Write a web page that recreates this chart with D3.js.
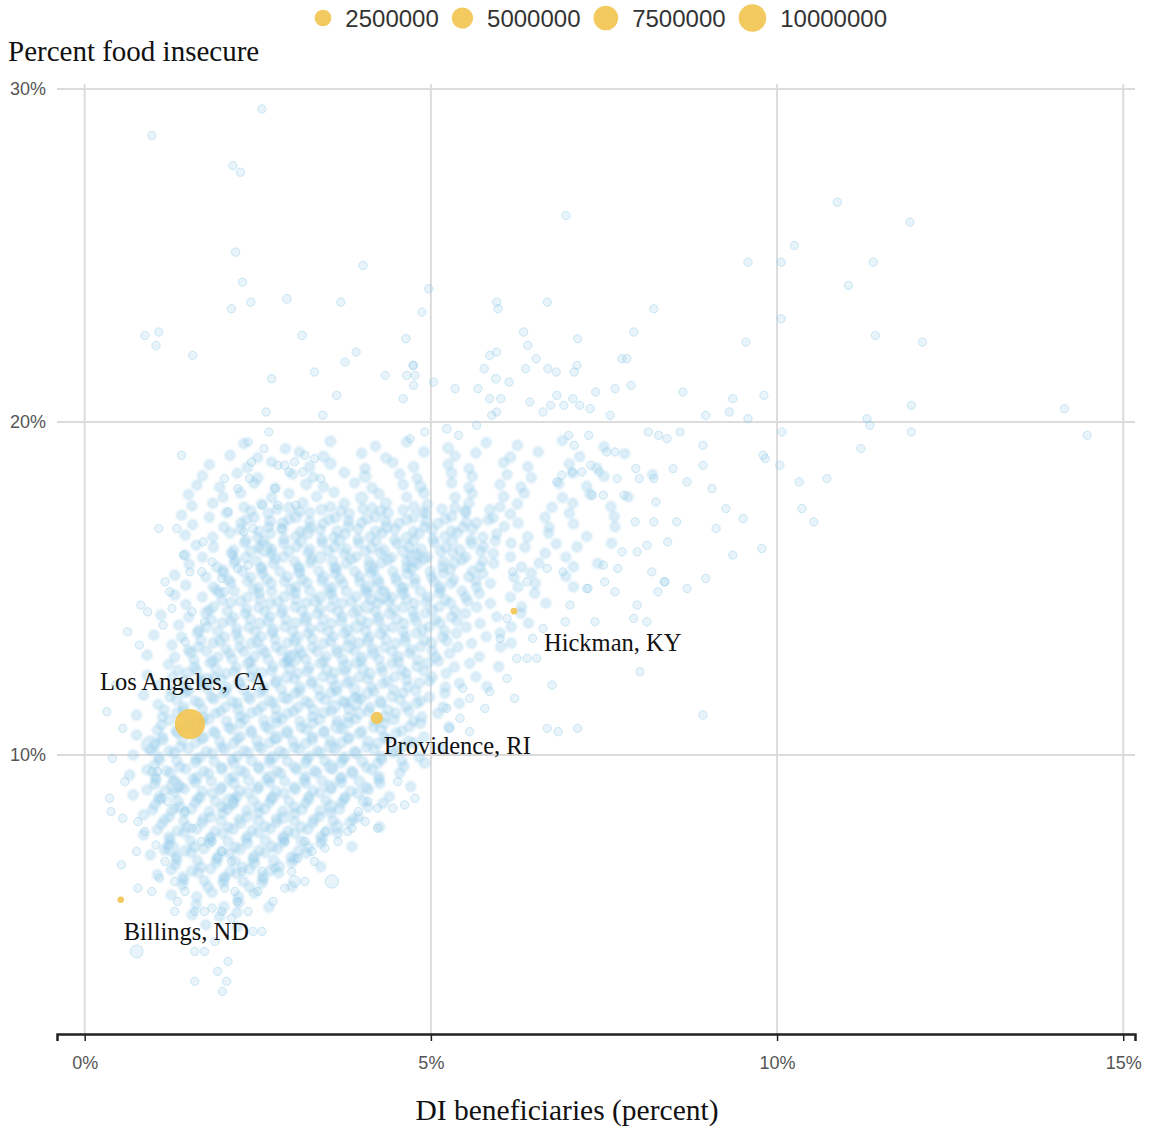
<!DOCTYPE html>
<html>
<head>
<meta charset="utf-8">
<script src="https://cdn.jsdelivr.net/npm/d3@7"></script>
<style>
  body { margin: 0; background: #fff; }
  svg { display: block; }
</style>
</head>
<body>
<svg id="chart"></svg>
<script>
// [DI beneficiaries %, food insecure %, population in thousands]
const outerCounties = [
  // sparse upper area
  [2.56,29.4,15],[0.97,28.6,20],[2.14,27.7,15],[2.25,27.5,12],[6.95,26.2,15],[10.87,26.6,20],[11.92,26.0,15],
  [2.18,25.1,20],[4.02,24.7,25],[2.28,24.2,15],[2.92,23.7,40],[3.7,23.6,20],[2.4,23.6,15],[2.12,23.4,20],
  [4.97,24.0,20],[4.87,23.3,15],[0.87,22.6,20],[1.07,22.7,15],[1.03,22.3,20],[1.56,22.0,15],[3.14,22.6,30],
  [4.64,22.5,20],[3.92,22.1,15],[3.76,21.8,20],[4.74,21.7,15],[3.32,21.5,20],[4.34,21.4,15],[4.65,21.4,20],
  [4.77,21.4,15],[2.7,21.3,20],[10.25,25.3,15],[9.58,24.8,20],[10.06,24.8,15],[11.39,24.8,20],[11.03,24.1,15],
  [10.06,23.1,20],[9.55,22.4,15],[11.42,22.6,20],[12.1,22.4,15],[9.36,20.7,20],[9.81,20.8,15],[9.31,20.3,20],
  [8.97,20.2,15],[9.58,20.1,20],[11.94,20.5,15],[14.15,20.4,20],[11.3,20.1,15],[11.34,19.9,20],[10.07,19.7,15],
  [11.94,19.7,20],[14.48,19.6,15],[8.93,19.3,20],[8.93,18.7,15],[9.8,19.0,20],[9.83,18.9,15],[10.04,18.7,20],
  [11.21,19.2,15],[10.32,18.2,20],[10.72,18.3,15],[9.06,18.0,20],[9.26,17.4,15],[9.51,17.1,20],[9.12,16.8,15],
  [10.36,17.4,20],[10.53,17.0,15],[9.78,16.2,20],[9.36,16.0,15],
  [5.95,23.6,20],[6.68,23.6,15],[5.97,23.4,20],[8.22,23.4,15],[6.34,22.7,20],[7.12,22.5,15],[7.93,22.7,20],
  [6.4,22.3,15],[5.85,22.0,20],[5.95,22.1,15],[6.52,21.9,20],[7.76,21.9,15],[7.83,21.9,20],[4.75,21.7,15],
  [5.77,21.6,20],[6.37,21.6,15],[6.69,21.6,20],[6.81,21.5,15],[7.07,21.5,20],[7.11,21.7,15],[4.75,21.1,20],
  [5.04,21.2,15],[5.35,21.0,20],[5.68,21.0,15],[5.94,21.3,40],[6.13,21.2,15],[7.66,21.0,20],[7.89,21.1,15],
  [7.38,20.9,20],[8.64,20.9,15],[4.6,20.7,20],[5.85,20.7,15],[6.01,20.7,20],[6.43,20.6,15],[6.82,20.8,20],
  [6.92,20.5,15],[7.05,20.7,20],[7.15,20.5,15],[7.3,20.4,20],[6.73,20.5,15],[6.62,20.3,20],[5.95,20.3,15],
  [5.88,20.2,20],[7.59,20.2,15],[3.64,20.8,20],[2.62,20.3,15],[3.44,20.2,20],
  // right-hand spread below 20%
  [4.7,19.5,20],[4.91,19.7,15],[5.23,19.8,40],[5.4,19.6,15],[5.66,19.9,20],[6.99,19.6,15],[7.07,19.3,20],
  [7.28,19.6,15],[8.14,19.7,20],[8.29,19.6,15],[8.41,19.5,20],[8.6,19.7,15],[8.7,18.2,20],[8.42,16.4,15],
  [8.25,17.6,20],[8.5,18.6,15],[7.96,18.6,20],[7.69,18.3,15],[8.01,18.3,20],[8.22,18.3,15],[7.79,17.8,20],
  [7.49,17.8,15],[7.33,17.8,20],[7.95,17.0,15],[8.22,17.0,20],[8.55,17.0,15],[8.12,16.3,20],[8.19,15.5,15],
  [8.37,15.2,20],[8.7,15.0,15],[8.97,15.3,20],[7.98,16.1,15],[7.76,16.1,20],[7.7,15.6,15],[7.49,15.7,20],
  [7.27,15.0,15],[7.54,19.1,20],[7.66,19.1,15],[7.31,18.7,20],[7.43,18.5,15],[7.18,18.5,20],[7.04,18.5,15],
  [6.89,18.4,20],[6.82,18.2,15],[8.38,15.2,20],[8.28,14.9,15],[7.98,14.5,20],[7.93,14.1,15],[8.12,14.0,20],
  [7.37,14.0,15],[6.94,14.0,20],[7.01,14.5,15],[7.66,14.9,20],[7.51,15.2,15],[7.25,15.0,20],[8.02,12.5,15],
  [6.75,12.1,20],[6.47,13.5,15],[6.39,12.9,20],[6.53,12.9,15],[6.24,12.9,20],[6.1,12.3,15],[6.21,11.7,20],
  [6.68,10.8,15],[6.84,10.7,20],[7.12,10.8,15],[8.93,11.2,20],[5.85,11.9,15],[5.78,11.4,20],[5.56,11.7,15],
  [5.46,12.0,20],[5.23,11.4,15],[5.42,11.1,20],[5.56,10.7,15],[5.27,10.8,20],[6.0,13.5,15],[6.1,14.1,20],
  [6.62,13.8,15],[6.68,15.6,20],[6.91,15.5,15],[6.39,15.2,20],[6.18,15.5,15],
  // left edge
  [2.36,19.4,20],[2.59,19.2,15],[1.4,19.0,20],[2.66,19.7,15],[3.18,19.0,20],[3.32,18.9,15],[2.41,18.8,20],
  [2.79,18.7,15],[2.89,18.7,20],[3.03,18.8,15],[2.02,18.3,20],[2.21,18.0,15],[2.38,18.3,20],[2.75,18.0,15],
  [2.95,18.5,20],[3.15,18.5,15],[3.41,18.3,20],[2.57,17.5,15],[2.79,17.5,20],[3.05,17.5,15],[2.07,17.3,20],
  [1.07,16.8,15],[1.33,16.8,20],[1.71,16.4,15],[2.3,16.7,20],[2.43,16.8,15],[2.85,16.8,20],[1.43,16.0,15],
  [1.84,15.8,20],[1.52,15.5,15],[1.69,15.5,20],[1.16,15.2,15],[1.23,14.9,20],[0.81,14.5,15],[0.91,14.3,20],
  [1.26,14.4,15],[0.62,13.7,20],[0.79,13.3,15],[1.13,13.9,20],[1.45,13.4,15],[1.55,14.3,20],[1.73,14.0,15],
  [2.02,14.9,20],[1.98,15.3,15],[2.21,15.6,20],[2.14,16.0,15],[2.36,15.7,20],[0.32,11.3,15],[0.45,12.1,20],
  [0.55,10.8,15],[0.4,9.9,20],
  // lower tail
  [0.58,9.2,15],[0.36,8.7,20],[0.38,8.3,15],[0.55,8.1,20],[0.97,9.5,15],[1.05,9.5,20],[0.77,8.0,15],
  [0.87,7.7,20],[1.03,7.3,15],[0.53,6.7,20],[0.75,7.1,15],[1.16,6.8,20],[1.08,6.3,15],[0.77,6.0,20],
  [0.97,5.9,15],[1.3,6.2,20],[1.34,5.6,15],[1.45,5.9,20],[1.59,5.3,15],[1.73,5.3,20],[1.3,5.3,15],
  [1.84,5.4,20],[1.98,5.3,15],[2.12,5.1,20],[2.2,5.6,15],[2.36,5.3,20],[2.5,5.9,15],[2.17,5.9,20],
  [2.02,6.0,15],[2.43,4.7,20],[2.56,4.7,15],[0.75,4.1,600],[1.59,4.1,20],[1.73,4.1,15],[1.88,4.4,20],
  [2.07,3.8,15],[1.92,3.5,20],[2.05,3.2,15],[1.99,2.9,20],[1.59,3.2,15],[2.72,5.6,20],[2.89,6.0,15],
  [3.03,6.2,300],[3.18,6.2,20],[2.99,6.5,15],[3.57,6.2,700],[3.32,6.8,20],[3.47,7.2,15],[3.08,6.9,20],
  [2.75,6.6,15],[2.56,6.5,20],[2.27,6.5,15],[2.12,6.8,20],[1.98,7.1,15],[1.84,7.4,20],[1.69,7.4,15],
  [1.55,7.8,20],[1.45,8.3,15],[1.3,8.4,20],[1.2,8.6,15],[1.11,8.7,20],[4.23,7.8,15],[4.05,8.0,20],
  [3.8,7.7,15],[3.86,7.8,20],[4.45,8.4,15],[4.62,8.5,20],[4.77,8.7,15],[4.52,9.2,20],[4.23,8.4,15],
  [4.09,8.6,20],[3.95,8.3,15],[3.66,7.4,20],[3.47,7.7,15],[3.18,7.4,20],[2.89,7.4,15],[3.28,7.1,20]
];

const coreCounties = [
  [2.3,19.35,20],[2.9,19.2,15],[3.55,19.42,30],[4.2,19.27,12],[4.65,19.4,20],[5.25,19.22,45],[5.8,19.38,15],[6.25,19.3,25],[6.9,19.44,12],[7.5,19.25,20],
  [2.1,19.0,25],[2.5,18.93,12],[3.1,19.1,20],[3.45,18.96,60],[4.0,19.06,15],[4.35,18.92,20],[4.9,19.1,30],[5.35,18.97,12],[5.65,19.07,20],[6.15,18.94,40],[6.55,19.1,15],[7.15,18.96,20],[7.8,19.05,12],
  [1.8,18.72,15],[2.35,18.63,30],[2.7,18.8,12],[3.25,18.66,20],[3.55,18.75,90],[4.05,18.6,20],[4.45,18.78,15],[4.75,18.65,35],[5.25,18.72,20],[5.55,18.6,12],[6.05,18.78,25],[6.4,18.66,15],[7.0,18.74,20],[7.4,18.62,12],
  [1.7,18.38,20],[2.2,18.46,12],[2.5,18.32,40],[3.0,18.43,20],[3.3,18.34,15],[3.75,18.48,25],[4.05,18.36,120],[4.55,18.44,20],[4.8,18.31,15],[5.3,18.47,30],[5.6,18.36,20],[6.1,18.42,12],[6.45,18.33,20],[7.05,18.46,15],[7.5,18.37,25],[8.2,18.42,12],
  [1.62,18.1,15],[1.95,18.04,25],[2.45,18.16,20],[2.75,18.02,12],[3.2,18.13,50],[3.45,18.05,20],[3.9,18.17,15],[4.15,18.02,30],[4.6,18.12,20],[4.85,18.06,80],[5.3,18.17,15],[5.55,18.03,20],[6.0,18.12,25],[6.3,18.05,12],[6.85,18.15,20],[7.25,18.07,15],
  [1.5,17.82,20],[2.0,17.74,12],[2.25,17.87,30],[2.7,17.73,20],[2.95,17.85,15],[3.35,17.76,25],[3.6,17.89,20],[4.0,17.72,150],[4.25,17.84,20],[4.65,17.75,15],[4.9,17.87,40],[5.35,17.74,20],[5.6,17.85,12],[6.05,17.76,30],[6.35,17.86,20],[6.9,17.73,15],[7.3,17.83,20],[7.85,17.75,12],
  [1.55,17.48,15],[1.85,17.56,25],[2.3,17.44,20],[2.55,17.54,12],[2.95,17.43,40],[3.15,17.57,20],[3.55,17.45,15],[3.75,17.55,30],[4.15,17.42,20],[4.35,17.56,60],[4.75,17.46,20],[4.95,17.53,15],[5.35,17.43,25],[5.55,17.56,20],[6.0,17.45,12],[6.25,17.54,30],[6.75,17.44,20],[7.05,17.56,15],[7.6,17.46,20],
  [1.4,17.2,20],[1.8,17.14,12],[2.05,17.27,30],[2.45,17.13,20],[2.65,17.25,15],[3.05,17.15,90],[3.25,17.28,20],[3.62,17.12,15],[3.82,17.24,25],[4.2,17.15,20],[4.38,17.27,40],[4.75,17.13,20],[4.93,17.25,15],[5.3,17.16,30],[5.5,17.28,20],[5.9,17.12,12],[6.15,17.23,25],[6.65,17.14,20],[7.0,17.26,15],[7.65,17.16,20],
  [1.56,16.92,15],[2.01,16.84,25],[2.26,16.97,20],[2.66,16.85,12],[2.86,16.96,50],[3.26,16.83,20],[3.44,16.95,15],[3.81,16.86,30],[4.0,16.98,20],[4.36,16.84,110],[4.54,16.96,20],[4.91,16.85,15],[5.1,16.95,25],[5.46,16.83,20],[5.66,16.97,40],[6.06,16.86,15],[6.26,16.96,20],[6.71,16.84,12],[7.06,16.94,20],[7.66,16.85,15],
  [1.45,16.6,20],[1.85,16.54,12],[2.1,16.67,30],[2.5,16.53,20],[2.68,16.65,15],[3.05,16.56,25],[3.22,16.68,200],[3.6,16.54,20],[3.76,16.64,15],[4.12,16.55,30],[4.3,16.67,20],[4.65,16.53,60],[4.83,16.65,20],[5.2,16.56,15],[5.38,16.67,25],[5.75,16.54,20],[5.95,16.64,12],[6.4,16.55,30],[6.7,16.66,20],[7.25,16.56,15],
  [1.61,16.3,15],[1.86,16.24,25],[2.31,16.37,20],[2.51,16.23,12],[2.88,16.35,40],[3.06,16.25,20],[3.43,16.37,15],[3.61,16.24,30],[3.96,16.36,20],[4.14,16.22,90],[4.51,16.35,20],[4.68,16.25,15],[5.05,16.37,25],[5.21,16.23,20],[5.59,16.35,45],[5.76,16.26,20],[6.16,16.36,15],[6.36,16.24,20],[6.81,16.34,12],[7.11,16.25,20],[7.61,16.36,15],
  [1.45,16.0,20],[1.7,15.94,12],[2.12,16.06,30],[2.33,15.93,20],[2.7,16.05,15],[2.87,15.95,25],[3.23,16.07,20],[3.4,15.93,150],[3.75,16.05,20],[3.92,15.95,15],[4.27,16.07,30],[4.43,15.93,20],[4.79,16.04,70],[4.95,15.95,20],[5.32,16.06,15],[5.5,15.94,25],[5.9,16.05,20],[6.15,15.95,12],[6.65,16.06,20],[6.95,15.94,15],
  [1.51,15.72,15],[1.91,15.64,25],[2.16,15.77,20],[2.56,15.63,12],[2.73,15.75,50],[3.09,15.65,20],[3.26,15.77,15],[3.61,15.63,30],[3.78,15.75,20],[4.13,15.65,250],[4.29,15.77,20],[4.65,15.63,15],[4.81,15.74,25],[5.17,15.64,20],[5.34,15.76,40],[5.71,15.65,20],[5.91,15.75,15],[6.31,15.64,20],[6.56,15.76,12],[7.06,15.65,20],[7.41,15.75,15],
  [1.3,15.4,20],[1.75,15.34,12],[2.0,15.47,30],[2.4,15.33,20],[2.57,15.45,15],[2.93,15.35,25],[3.1,15.47,20],[3.45,15.33,100],[3.62,15.45,20],[3.97,15.35,15],[4.13,15.47,30],[4.49,15.33,20],[4.66,15.45,60],[5.01,15.34,20],[5.18,15.46,15],[5.55,15.35,25],[5.75,15.45,20],[6.2,15.34,12],[6.45,15.46,20],[6.95,15.36,15],
  [1.46,15.1,15],[1.86,15.04,25],[2.11,15.17,20],[2.51,15.03,12],[2.69,15.15,45],[3.05,15.05,20],[3.21,15.17,15],[3.57,15.03,30],[3.73,15.15,20],[4.09,15.05,180],[4.25,15.17,20],[4.61,15.03,15],[4.77,15.15,25],[5.13,15.05,20],[5.29,15.16,35],[5.66,15.04,20],[5.86,15.15,15],[6.26,15.05,20],[6.51,15.16,12],[7.06,15.05,20],
  [1.3,14.8,20],[1.7,14.74,12],[1.95,14.87,30],[2.35,14.73,20],[2.52,14.85,15],[2.88,14.75,25],[3.04,14.87,20],[3.4,14.73,120],[3.56,14.85,20],[3.92,14.75,15],[4.08,14.87,30],[4.44,14.73,20],[4.6,14.85,80],[4.96,14.74,20],[5.12,14.86,15],[5.5,14.75,25],[5.7,14.85,20],[6.15,14.74,12],[6.5,14.86,20],
  [1.46,14.52,15],[1.86,14.44,25],[2.11,14.57,20],[2.51,14.43,12],[2.68,14.55,50],[3.04,14.45,20],[3.2,14.57,15],[3.56,14.43,30],[3.72,14.55,20],[4.08,14.45,300],[4.24,14.57,20],[4.6,14.43,15],[4.76,14.55,25],[5.12,14.45,20],[5.28,14.56,40],[5.66,14.44,20],[5.86,14.55,15],[6.31,14.45,20],[6.66,14.56,12],
  [1.1,14.2,20],[1.5,14.14,12],[1.75,14.27,30],[2.15,14.13,20],[2.32,14.25,15],[2.68,14.15,25],[2.84,14.27,20],[3.2,14.13,90],[3.36,14.25,20],[3.72,14.15,15],[3.88,14.27,30],[4.24,14.13,20],[4.4,14.25,60],[4.76,14.15,20],[4.92,14.26,15],[5.3,14.14,25],[5.5,14.25,20],[5.95,14.15,12],[6.3,14.26,20],
  [1.36,13.9,15],[1.76,13.84,25],[1.99,13.97,20],[2.37,13.83,12],[2.53,13.95,45],[2.89,13.85,20],[3.05,13.97,15],[3.41,13.83,30],[3.57,13.95,20],[3.93,13.85,200],[4.09,13.97,20],[4.45,13.83,15],[4.61,13.95,25],[4.97,13.85,20],[5.13,13.96,35],[5.51,13.84,20],[5.71,13.95,15],[6.16,13.85,20],[6.41,13.96,12],
  [1.0,13.6,20],[1.4,13.54,12],[1.63,13.67,30],[2.02,13.53,20],[2.19,13.65,15],[2.55,13.55,25],[2.71,13.67,20],[3.07,13.53,110],[3.23,13.65,20],[3.59,13.55,15],[3.75,13.67,30],[4.11,13.53,20],[4.27,13.65,70],[4.63,13.55,20],[4.79,13.66,15],[5.17,13.54,25],[5.37,13.65,20],[5.8,13.55,12],[6.0,13.66,20],
  [1.26,13.3,15],[1.64,13.24,25],[1.86,13.37,20],[2.24,13.23,12],[2.41,13.35,50],[2.77,13.25,20],[2.93,13.37,15],[3.29,13.23,30],[3.45,13.35,20],[3.81,13.25,250],[3.97,13.37,20],[4.33,13.23,15],[4.49,13.35,25],[4.85,13.25,20],[5.01,13.36,40],[5.39,13.24,20],[5.59,13.35,15],[6.01,13.25,20],[6.16,13.36,12],
  [0.9,13.0,20],[1.3,12.94,12],[1.53,13.07,30],[1.92,12.93,20],[2.09,13.05,15],[2.45,12.95,25],[2.61,13.07,20],[2.97,12.93,120],[3.13,13.05,20],[3.49,12.95,15],[3.65,13.07,30],[4.01,12.93,20],[4.17,13.05,80],[4.53,12.95,20],[4.69,13.06,15],[5.07,12.94,25],[5.27,13.05,20],[5.7,12.95,12],
  [1.21,12.72,15],[1.59,12.64,25],[1.81,12.77,20],[2.19,12.63,12],[2.36,12.75,45],[2.72,12.65,20],[2.88,12.77,15],[3.24,12.63,30],[3.4,12.75,20],[3.76,12.65,350],[3.92,12.77,20],[4.28,12.63,15],[4.44,12.75,25],[4.8,12.65,20],[4.96,12.76,40],[5.34,12.64,20],[5.56,12.75,15],[5.98,12.65,20],
  [0.9,12.4,20],[1.27,12.34,12],[1.49,12.47,30],[1.87,12.33,20],[2.04,12.45,15],[2.4,12.35,25],[2.56,12.47,20],[2.92,12.33,100],[3.08,12.45,20],[3.44,12.35,15],[3.6,12.47,30],[3.96,12.33,20],[4.12,12.45,60],[4.48,12.35,20],[4.64,12.46,15],[5.02,12.34,25],[5.22,12.45,20],[5.65,12.35,12],
  [1.06,12.1,15],[1.46,12.04,25],[1.68,12.17,20],[2.06,12.03,12],[2.23,12.15,50],[2.59,12.05,20],[2.75,12.17,15],[3.11,12.03,30],[3.27,12.15,20],[3.63,12.05,200],[3.79,12.17,20],[4.15,12.03,15],[4.31,12.15,25],[4.67,12.05,20],[4.83,12.16,40],[5.21,12.04,20],[5.41,12.15,15],[5.81,12.05,20],
  [0.85,11.8,20],[1.23,11.74,12],[1.45,11.87,30],[1.83,11.73,20],[2.0,11.85,15],[2.36,11.75,25],[2.52,11.87,20],[2.88,11.73,130],[3.04,11.85,20],[3.4,11.75,15],[3.56,11.87,30],[3.92,11.73,20],[4.08,11.85,70],[4.44,11.75,20],[4.6,11.86,15],[4.98,11.74,25],[5.2,11.85,20],
  [1.06,11.52,15],[1.43,11.44,25],[1.65,11.57,20],[2.03,11.43,12],[2.2,11.55,45],[2.56,11.45,20],[2.72,11.57,15],[3.08,11.43,30],[3.24,11.55,20],[3.6,11.45,250],[3.76,11.57,20],[4.12,11.43,15],[4.28,11.55,25],[4.64,11.45,20],[4.8,11.56,40],[5.18,11.44,20],[5.41,11.55,15],
  [0.75,11.2,20],[1.12,11.14,12],[1.34,11.27,30],[1.72,11.13,20],[1.89,11.25,15],[2.25,11.15,25],[2.41,11.27,20],[2.77,11.13,110],[2.93,11.25,20],[3.29,11.15,15],[3.45,11.27,30],[3.81,11.13,20],[3.97,11.25,80],[4.33,11.15,20],[4.49,11.26,15],[4.87,11.14,25],[5.1,11.25,20],
  [1.11,10.9,15],[1.48,10.84,25],[1.7,10.97,20],[2.08,10.83,12],[2.25,10.95,50],[2.61,10.85,20],[2.77,10.97,15],[3.13,10.83,30],[3.29,10.95,20],[3.65,10.85,300],[3.81,10.97,20],[4.17,10.83,15],[4.33,10.95,25],[4.69,10.85,20],[4.85,10.96,40],[5.26,10.84,20],
  [0.75,10.6,20],[1.12,10.54,12],[1.34,10.67,30],[1.72,10.53,20],[1.89,10.65,15],[2.25,10.55,25],[2.41,10.67,20],[2.77,10.53,140],[2.93,10.65,20],[3.29,10.55,15],[3.45,10.67,30],[3.81,10.53,20],[3.97,10.65,60],[4.33,10.55,20],[4.5,10.66,15],[4.9,10.54,25],
  [1.01,10.32,15],[1.38,10.24,25],[1.6,10.37,20],[1.98,10.23,12],[2.15,10.35,45],[2.51,10.25,20],[2.67,10.37,15],[3.03,10.23,30],[3.19,10.35,20],[3.55,10.25,220],[3.71,10.37,20],[4.07,10.23,15],[4.23,10.35,25],[4.59,10.25,20],[4.76,10.36,40],[5.16,10.24,20],
  [0.7,10.0,20],[1.07,9.94,12],[1.29,10.07,30],[1.67,9.93,20],[1.84,10.05,15],[2.2,9.95,25],[2.36,10.07,20],[2.72,9.93,120],[2.88,10.05,20],[3.24,9.95,15],[3.4,10.07,30],[3.76,9.93,20],[3.92,10.05,70],[4.28,9.95,20],[4.45,10.06,15],[4.83,9.94,25],
  [1.01,9.7,15],[1.38,9.64,25],[1.6,9.77,20],[1.98,9.63,12],[2.15,9.75,50],[2.51,9.65,20],[2.67,9.77,15],[3.03,9.63,30],[3.19,9.75,20],[3.55,9.65,260],[3.71,9.77,20],[4.07,9.63,15],[4.23,9.75,25],[4.61,9.65,20],[4.91,9.76,40],
  [0.65,9.4,20],[1.02,9.34,12],[1.24,9.47,30],[1.62,9.33,20],[1.79,9.45,15],[2.15,9.35,25],[2.31,9.47,20],[2.67,9.33,150],[2.83,9.45,20],[3.19,9.35,15],[3.35,9.47,30],[3.71,9.33,20],[3.87,9.45,60],[4.25,9.35,20],[4.55,9.46,15],
  [1.01,9.12,15],[1.38,9.04,25],[1.6,9.17,20],[1.98,9.03,12],[2.15,9.15,45],[2.51,9.05,20],[2.67,9.17,15],[3.03,9.03,30],[3.19,9.15,20],[3.55,9.05,180],[3.71,9.17,20],[4.07,9.03,15],[4.26,9.15,25],[4.71,9.05,20],
  [0.7,8.8,20],[1.07,8.74,12],[1.29,8.87,30],[1.67,8.73,20],[1.84,8.85,15],[2.2,8.75,25],[2.36,8.87,20],[2.72,8.73,100],[2.88,8.85,20],[3.24,8.75,15],[3.4,8.87,30],[3.76,8.73,20],[3.95,8.85,50],[4.4,8.75,20],
  [1.01,8.5,15],[1.38,8.44,25],[1.6,8.57,20],[1.98,8.43,12],[2.15,8.55,40],[2.51,8.45,20],[2.67,8.57,15],[3.03,8.43,30],[3.19,8.55,20],[3.55,8.45,200],[3.71,8.57,20],[4.09,8.43,15],[4.31,8.55,25],
  [0.85,8.2,20],[1.22,8.14,12],[1.44,8.27,30],[1.82,8.13,20],[1.99,8.25,15],[2.35,8.15,25],[2.51,8.27,20],[2.87,8.13,120],[3.03,8.25,20],[3.39,8.15,15],[3.55,8.27,30],[3.95,8.13,20],
  [1.11,7.92,15],[1.48,7.84,25],[1.7,7.97,20],[2.08,7.83,12],[2.25,7.95,50],[2.61,7.85,20],[2.77,7.97,15],[3.13,7.83,30],[3.29,7.95,20],[3.65,7.85,160],[3.83,7.97,20],[4.26,7.84,15],
  [0.85,7.6,20],[1.22,7.54,12],[1.44,7.67,30],[1.82,7.53,20],[1.99,7.65,15],[2.35,7.55,25],[2.51,7.67,20],[2.87,7.53,90],[3.03,7.65,20],[3.41,7.55,15],[3.65,7.66,25],
  [1.21,7.3,15],[1.58,7.24,25],[1.8,7.37,20],[2.18,7.23,12],[2.35,7.35,45],[2.71,7.25,20],[2.87,7.37,15],[3.23,7.23,30],[3.41,7.35,20],[3.86,7.25,15],
  [0.95,7.0,20],[1.32,6.94,12],[1.54,7.07,30],[1.92,6.93,20],[2.09,7.05,15],[2.45,6.95,70],[2.61,7.07,20],[2.98,6.93,15],[3.2,7.05,20],
  [1.31,6.7,15],[1.68,6.64,25],[1.9,6.77,20],[2.28,6.63,12],[2.45,6.75,40],[2.81,6.65,20],[2.99,6.77,15],[3.41,6.64,20],
  [1.05,6.4,20],[1.42,6.34,12],[1.64,6.47,30],[2.02,6.33,20],[2.19,6.45,15],[2.57,6.35,25],[2.8,6.46,20],
  [1.41,6.1,15],[1.78,6.04,25],[2.0,6.17,20],[2.38,6.03,12],[2.56,6.15,30],[2.99,6.05,15],
  [1.25,5.8,20],[1.62,5.74,12],[1.84,5.87,25],[2.22,5.73,20],[2.45,5.85,15],
  [1.61,5.5,15],[2.01,5.44,20],[2.23,5.57,12],[2.66,5.43,20],
  [1.55,5.2,20],[1.95,5.14,15],[2.2,5.27,12],
  [1.75,4.9,15],[2.2,4.84,20],
  // denser middle of the cloud
  [2.4,17.33,25],[2.78,17.38,15],[3.1,17.31,20],[3.42,17.37,45],[3.7,17.32,15],[4.02,17.39,20],[4.28,17.33,30],[4.6,17.36,15],[4.88,17.3,20],[5.16,17.38,25],[5.5,17.33,15],[5.85,17.37,20],
  [2.33,17.05,20],[2.68,17.02,30],[2.95,17.08,15],[3.25,17.0,20],[3.53,17.07,25],[3.81,17.03,15],[4.08,17.09,60],[4.35,17.01,20],[4.65,17.06,15],[4.93,17.02,25],[5.21,17.08,20],[5.51,17.0,15],[5.83,17.06,20],
  [2.25,16.77,15],[2.52,16.72,20],[2.85,16.78,40],[3.12,16.71,15],[3.4,16.76,20],[3.65,16.73,30],[3.95,16.79,15],[4.2,16.72,20],[4.48,16.78,50],[4.75,16.71,15],[5.02,16.76,20],[5.3,16.73,25],[5.6,16.78,15],
  [2.33,16.45,20],[2.58,16.42,15],[2.88,16.48,25],[3.13,16.41,20],[3.43,16.47,15],[3.68,16.43,70],[3.95,16.48,20],[4.21,16.41,15],[4.48,16.46,30],[4.75,16.42,20],[5.03,16.48,15],[5.31,16.41,25],[5.58,16.46,20],[5.93,16.43,15],
  [2.15,16.15,15],[2.4,16.12,30],[2.7,16.18,20],[2.95,16.11,15],[3.25,16.17,40],[3.52,16.13,20],[3.78,16.18,15],[4.05,16.11,25],[4.32,16.16,20],[4.6,16.12,110],[4.86,16.18,20],[5.14,16.11,15],[5.42,16.16,20],[5.72,16.12,25],
  [2.18,15.85,20],[2.48,15.82,15],[2.75,15.88,25],[3.03,15.81,20],[3.28,15.87,15],[3.58,15.83,30],[3.85,15.88,20],[4.11,15.81,15],[4.38,15.86,45],[4.65,15.82,20],[4.91,15.88,15],[5.18,15.81,25],[5.45,15.86,20],[5.75,15.82,15],
  [2.0,15.55,15],[2.28,15.52,25],[2.55,15.58,20],[2.82,15.51,15],[3.1,15.57,60],[3.38,15.53,20],[3.64,15.58,15],[3.9,15.51,25],[4.18,15.56,20],[4.45,15.52,15],[4.72,15.58,30],[4.99,15.51,20],[5.28,15.56,15],[5.6,15.52,20],
  [2.08,15.25,20],[2.35,15.22,15],[2.63,15.28,30],[2.89,15.21,20],[3.15,15.27,15],[3.43,15.23,25],[3.69,15.28,20],[3.97,15.21,15],[4.23,15.26,80],[4.51,15.22,20],[4.77,15.28,15],[5.05,15.21,25],[5.33,15.26,20],[5.65,15.22,15],
  [1.9,14.95,15],[2.16,14.92,25],[2.44,14.98,20],[2.7,14.91,15],[2.98,14.97,40],[3.25,14.93,20],[3.52,14.98,15],[3.78,14.91,25],[4.05,14.96,20],[4.32,14.92,15],[4.58,14.98,50],[4.85,14.91,20],[5.14,14.96,15],[5.45,14.92,20],
  [1.98,14.65,20],[2.25,14.62,15],[2.53,14.68,25],[2.79,14.61,20],[3.05,14.67,15],[3.33,14.63,90],[3.59,14.68,20],[3.85,14.61,15],[4.13,14.66,25],[4.39,14.62,20],[4.65,14.68,15],[4.93,14.61,30],[5.21,14.66,20],[5.53,14.62,15],
  [1.8,14.35,15],[2.06,14.32,25],[2.34,14.38,20],[2.6,14.31,15],[2.86,14.37,35],[3.14,14.33,20],[3.4,14.38,15],[3.66,14.31,25],[3.94,14.36,20],[4.2,14.32,15],[4.46,14.38,60],[4.74,14.31,20],[5.02,14.36,15],[5.35,14.32,20],
  [1.83,14.05,20],[2.11,14.02,15],[2.39,14.08,25],[2.65,14.01,20],[2.91,14.07,15],[3.19,14.03,40],[3.45,14.08,20],[3.71,14.01,15],[3.99,14.06,25],[4.25,14.02,20],[4.51,14.08,15],[4.79,14.01,30],[5.07,14.06,20],[5.38,14.02,15],
  [1.65,13.75,15],[1.92,13.72,25],[2.2,13.78,20],[2.46,13.71,15],[2.72,13.77,70],[3.0,13.73,20],[3.26,13.78,15],[3.52,13.71,25],[3.8,13.76,20],[4.06,13.72,15],[4.32,13.78,35],[4.6,13.71,20],[4.88,13.76,15],[5.2,13.72,20],
  [1.68,13.45,20],[1.95,13.42,15],[2.23,13.48,25],[2.49,13.41,20],[2.75,13.47,15],[3.03,13.43,30],[3.29,13.48,20],[3.55,13.41,15],[3.83,13.46,100],[4.09,13.42,20],[4.35,13.48,15],[4.63,13.41,25],[4.91,13.46,20],[5.23,13.42,15],
  [1.5,13.15,15],[1.76,13.12,25],[2.04,13.18,20],[2.3,13.11,15],[2.56,13.17,45],[2.84,13.13,20],[3.1,13.18,15],[3.36,13.11,25],[3.64,13.16,20],[3.9,13.12,15],[4.16,13.18,60],[4.44,13.11,20],[4.72,13.16,15],[5.02,13.12,20],
  [1.58,12.85,20],[1.85,12.82,15],[2.13,12.88,25],[2.39,12.81,20],[2.65,12.87,15],[2.93,12.83,40],[3.19,12.88,20],[3.45,12.81,15],[3.73,12.86,25],[3.99,12.82,20],[4.25,12.88,15],[4.53,12.81,30],[4.81,12.86,20],[5.11,12.82,15],
  [1.35,12.55,15],[1.62,12.52,25],[1.9,12.58,20],[2.16,12.51,15],[2.42,12.57,80],[2.7,12.53,20],[2.96,12.58,15],[3.22,12.51,25],[3.5,12.56,20],[3.76,12.52,15],[4.02,12.58,35],[4.3,12.51,20],[4.58,12.56,15],[4.9,12.52,20],
  [1.43,12.25,20],[1.69,12.22,15],[1.97,12.28,25],[2.23,12.21,20],[2.49,12.27,15],[2.77,12.23,30],[3.03,12.28,20],[3.29,12.21,15],[3.57,12.26,90],[3.83,12.22,20],[4.09,12.28,15],[4.37,12.21,25],[4.65,12.26,20],[4.98,12.22,15],
  [1.25,11.95,15],[1.5,11.92,25],[1.78,11.98,20],[2.04,11.91,15],[2.3,11.97,40],[2.58,11.93,20],[2.84,11.98,15],[3.1,11.91,25],[3.38,11.96,20],[3.64,11.92,15],[3.9,11.98,50],[4.18,11.91,20],[4.46,11.96,15],[4.78,11.92,20],
  [1.33,11.65,20],[1.59,11.62,15],[1.87,11.68,25],[2.13,11.61,20],[2.39,11.67,15],[2.67,11.63,35],[2.93,11.68,20],[3.19,11.61,15],[3.47,11.66,25],[3.73,11.62,20],[3.99,11.68,15],[4.27,11.61,70],[4.55,11.66,20],[4.85,11.62,15],
  [1.15,11.35,15],[1.42,11.32,25],[1.7,11.38,20],[1.96,11.31,15],[2.22,11.37,60],[2.5,11.33,20],[2.76,11.38,15],[3.02,11.31,25],[3.3,11.36,20],[3.56,11.32,15],[3.82,11.38,30],[4.1,11.31,20],[4.38,11.36,15],[4.68,11.32,20],
  [1.23,11.05,20],[1.51,11.02,15],[1.79,11.08,25],[2.05,11.01,20],[2.31,11.07,15],[2.59,11.03,40],[2.85,11.08,20],[3.11,11.01,15],[3.39,11.06,25],[3.65,11.02,20],[3.91,11.08,15],[4.19,11.01,35],[4.47,11.06,20],[4.75,11.02,15],
  [1.05,10.75,15],[1.32,10.72,25],[1.6,10.78,20],[1.86,10.71,15],[2.12,10.77,30],[2.4,10.73,20],[2.66,10.78,15],[2.92,10.71,80],[3.2,10.76,20],[3.46,10.72,15],[3.72,10.78,25],[4.0,10.71,20],[4.28,10.76,15],[4.58,10.72,20],
  [1.13,10.45,20],[1.41,10.42,15],[1.69,10.48,25],[1.95,10.41,20],[2.21,10.47,15],[2.49,10.43,50],[2.75,10.48,20],[3.01,10.41,15],[3.29,10.46,25],[3.55,10.42,20],[3.81,10.48,15],[4.09,10.41,30],[4.37,10.46,20],[4.68,10.42,15],
  [0.95,10.15,15],[1.22,10.12,25],[1.5,10.18,20],[1.76,10.11,15],[2.02,10.17,40],[2.3,10.13,20],[2.56,10.18,15],[2.82,10.11,25],[3.1,10.16,20],[3.36,10.12,15],[3.62,10.18,60],[3.9,10.11,20],[4.18,10.16,15],[4.5,10.12,20],
  [1.08,9.85,20],[1.33,9.82,15],[1.61,9.88,25],[1.87,9.81,20],[2.13,9.87,15],[2.41,9.83,30],[2.67,9.88,20],[2.93,9.81,15],[3.21,9.86,25],[3.47,9.82,20],[3.73,9.88,15],[4.01,9.81,40],[4.29,9.86,20],[4.58,9.82,15],
  [0.9,9.55,15],[1.18,9.52,25],[1.46,9.58,20],[1.72,9.51,15],[1.98,9.57,50],[2.26,9.53,20],[2.52,9.58,15],[2.78,9.51,25],[3.06,9.56,20],[3.32,9.52,15],[3.58,9.58,30],[3.86,9.51,20],[4.15,9.56,15],
  [1.03,9.25,20],[1.29,9.22,15],[1.57,9.28,25],[1.83,9.21,20],[2.09,9.27,15],[2.37,9.23,35],[2.63,9.28,20],[2.89,9.21,15],[3.17,9.26,25],[3.43,9.22,20],[3.69,9.28,15],[3.97,9.21,40],[4.25,9.26,20],
  [0.9,8.95,15],[1.16,8.92,25],[1.44,8.98,20],[1.7,8.91,15],[1.96,8.97,60],[2.24,8.93,20],[2.5,8.98,15],[2.76,8.91,25],[3.04,8.96,20],[3.3,8.92,15],[3.56,8.98,30],[3.84,8.91,20],[4.1,8.96,15],
  [1.08,8.65,20],[1.35,8.62,15],[1.63,8.68,25],[1.89,8.61,20],[2.15,8.67,15],[2.43,8.63,40],[2.69,8.68,20],[2.95,8.61,15],[3.23,8.66,25],[3.49,8.62,20],[3.75,8.68,15],[4.03,8.61,20],
  [0.98,8.35,15],[1.26,8.32,25],[1.54,8.38,20],[1.8,8.31,15],[2.06,8.37,35],[2.34,8.33,20],[2.6,8.38,15],[2.86,8.31,25],[3.14,8.36,20],[3.4,8.32,15],[3.68,8.38,30],
  [1.15,8.05,20],[1.43,8.02,15],[1.71,8.08,25],[1.97,8.01,20],[2.23,8.07,15],[2.51,8.03,50],[2.77,8.08,20],[3.03,8.01,15],[3.31,8.06,25],[3.59,8.02,20],[3.88,8.08,15],
  [1.05,7.75,15],[1.34,7.72,25],[1.62,7.78,20],[1.88,7.71,15],[2.14,7.77,30],[2.42,7.73,20],[2.68,7.78,15],[2.94,7.71,25],[3.22,7.76,20],[3.5,7.72,15],
  [1.23,7.45,20],[1.53,7.42,15],[1.81,7.48,25],[2.07,7.41,20],[2.33,7.47,15],[2.61,7.43,40],[2.87,7.48,20],[3.13,7.41,15],[3.43,7.46,20],
  [1.15,7.15,15],[1.45,7.12,25],[1.72,7.18,20],[1.98,7.11,15],[2.24,7.17,30],[2.52,7.13,20],[2.78,7.18,15],[3.08,7.11,20],
  [1.33,6.85,20],[1.63,6.82,15],[1.91,6.88,25],[2.17,6.81,20],[2.43,6.87,15],[2.73,6.83,35],[3.03,6.88,20],
  [1.25,6.55,15],[1.55,6.52,25],[1.82,6.58,20],[2.1,6.51,15],[2.38,6.57,30],[2.68,6.53,20],
  [1.43,6.25,20],[1.73,6.22,15],[2.01,6.28,25],[2.29,6.21,20],[2.58,6.27,15],
  // a few larger counties
  [0.95,10.3,1500],[1.3,9.1,900],[2.1,8.6,800],[3.0,12.9,1200],[4.3,14.8,1000],[2.6,16.2,900],
  [1.75,12.2,1100],[1.25,7.2,700],[3.9,11.6,900],[4.75,15.9,700]
];

const highlightNames = ["Los Angeles, CA", "Providence, RI", "Hickman, KY", "Billings, ND"];
const highlightDi = [1.52, 4.22, 6.2, 0.52];
const highlightFood = [10.93, 11.11, 14.32, 5.65];
const highlightPop = [10100000, 630000, 4500, 900];

const legendValues = [2500000, 5000000, 7500000, 10000000];
const xTicks = [0, 5, 10, 15];
const yTicks = [10, 20, 30];

const width = 1151;
const height = 1132;
const sansFont = "'Liberation Sans', Arial, sans-serif";
const serifFont = "'Liberation Serif', 'Times New Roman', serif";
const gold = "#f2c44f";
const blue = "#8cc7e8";

const svg = d3.select("#chart")
  .attr("width", width)
  .attr("height", height);

// soften the dense part of the cloud
svg.append("defs").append("filter")
  .attr("id", "soft")
  .attr("x", "-5%").attr("y", "-5%").attr("width", "110%").attr("height", "110%")
  .append("feGaussianBlur")
  .attr("stdDeviation", 0.9);

// scales
const x = d3.scaleLinear().domain([-0.4, 15.17]).range([57, 1135]);
const y = d3.scaleLinear().domain([1.62, 30.15]).range([1034, 84]);
const r = d3.scaleSqrt().domain([0, 10000000]).range([3.2, 15]);
const rBlue = d3.scaleSqrt().domain([0, 10000000]).range([3.7, 15]);

// grid
svg.append("g")
  .selectAll("line")
  .data(xTicks)
  .join("line")
  .attr("x1", d => x(d)).attr("x2", d => x(d))
  .attr("y1", y.range()[1]).attr("y2", y.range()[0])
  .attr("stroke", "#dcdcdc")
  .attr("stroke-width", 2);

svg.append("g")
  .selectAll("line")
  .data(yTicks)
  .join("line")
  .attr("x1", x.range()[0]).attr("x2", x.range()[1])
  .attr("y1", d => y(d)).attr("y2", d => y(d))
  .attr("stroke", "#dcdcdc")
  .attr("stroke-width", 2);

// y tick labels
svg.append("g")
  .selectAll("text")
  .data(yTicks)
  .join("text")
  .attr("x", 46)
  .attr("y", d => y(d))
  .attr("dy", "0.36em")
  .attr("text-anchor", "end")
  .attr("font-family", sansFont)
  .attr("font-size", 18)
  .attr("fill", "#555")
  .text(d => d + "%");

// x axis
const xAxis = svg.append("g")
  .attr("transform", `translate(0,${y.range()[0]})`)
  .call(d3.axisBottom(x).tickValues(xTicks).tickSize(7).tickPadding(15).tickFormat(d => d + "%"));
xAxis.select(".domain").attr("stroke", "#222").attr("stroke-width", 2.5);
xAxis.selectAll(".tick line").attr("stroke", "#222").attr("stroke-width", 1.5);
xAxis.selectAll(".tick text")
  .attr("font-family", sansFont)
  .attr("font-size", 18)
  .attr("fill", "#555");

// county bubbles: dense core (softened), then the sparse outskirts
const bySize = arr => arr.slice().sort((a, b) => b[2] - a[2]);

svg.append("g")
  .attr("filter", "url(#soft)")
  .selectAll("circle")
  .data(bySize(coreCounties))
  .join("circle")
  .attr("cx", d => x(d[0]))
  .attr("cy", d => y(d[1]))
  .attr("r", d => rBlue(d[2] * 1000) + 0.6)
  .attr("fill", blue)
  .attr("fill-opacity", 0.3)
  .attr("stroke", blue)
  .attr("stroke-opacity", 0.55)
  .attr("stroke-width", 1);

svg.append("g")
  .selectAll("circle")
  .data(bySize(outerCounties))
  .join("circle")
  .attr("cx", d => x(d[0]))
  .attr("cy", d => y(d[1]))
  .attr("r", d => rBlue(d[2] * 1000))
  .attr("fill", blue)
  .attr("fill-opacity", 0.2)
  .attr("stroke", blue)
  .attr("stroke-opacity", 0.4)
  .attr("stroke-width", 1);

// highlighted counties
const highlights = highlightNames.map((name, i) => ({
  name, di: highlightDi[i], food: highlightFood[i], pop: highlightPop[i]
}));
const labelOffsets = [[-90, -34], [7, 36], [30, 40], [3, 40]];

svg.append("g")
  .selectAll("circle")
  .data(highlights)
  .join("circle")
  .attr("cx", d => x(d.di))
  .attr("cy", d => y(d.food))
  .attr("r", d => r(d.pop))
  .attr("fill", gold)
  .attr("fill-opacity", 0.9);

svg.append("g")
  .selectAll("text")
  .data(highlights)
  .join("text")
  .attr("x", (d, i) => x(d.di) + labelOffsets[i][0])
  .attr("y", (d, i) => y(d.food) + labelOffsets[i][1])
  .attr("font-family", serifFont)
  .attr("font-size", 24.5)
  .attr("fill", "#111")
  .text(d => d.name);

// titles
svg.append("text")
  .attr("x", 8)
  .attr("y", 61)
  .attr("font-family", serifFont)
  .attr("font-size", 29)
  .attr("fill", "#111")
  .text("Percent food insecure");

svg.append("text")
  .attr("x", 567)
  .attr("y", 1120)
  .attr("text-anchor", "middle")
  .attr("font-family", serifFont)
  .attr("font-size", 29.5)
  .attr("fill", "#111")
  .text("DI beneficiaries (percent)");

// legend
const legend = svg.append("g");
let cx = 323;
legendValues.forEach((v, i) => {
  const rad = r(v) * 0.92;
  if (i > 0) cx += rad;
  legend.append("circle")
    .attr("cx", cx).attr("cy", 18).attr("r", rad)
    .attr("fill", gold).attr("fill-opacity", 0.9);
  const t = legend.append("text")
    .attr("x", cx + rad + 14)
    .attr("y", 18)
    .attr("dy", "0.36em")
    .attr("font-family", sansFont)
    .attr("font-size", 24)
    .attr("fill", "#333")
    .text(v);
  cx = cx + rad + 14 + t.node().getComputedTextLength() + 13;
});
</script>
</body>
</html>
